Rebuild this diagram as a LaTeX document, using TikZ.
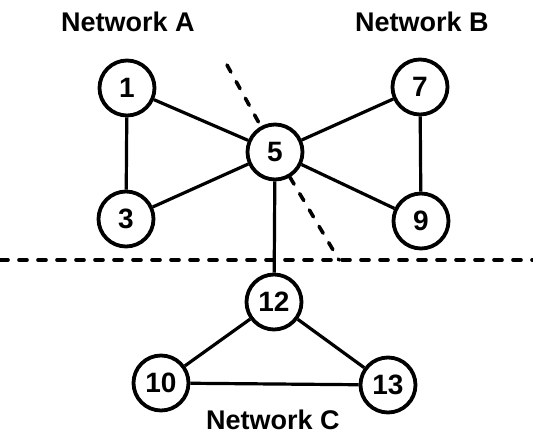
\documentclass[tikz,border=0pt]{standalone}
\usepackage{fontspec}
\setmainfont{Liberation Sans}
\begin{document}
\begin{tikzpicture}[x=1pt, y=-1pt,
    vertex/.style={draw, circle, line width=3.8pt, minimum size=55pt, inner sep=0pt,
        font=\fontsize{28}{30}\selectfont\bfseries},
    netlabel/.style={inner sep=1pt, font=\fontsize{27}{30}\selectfont\bfseries},
    edge/.style={line width=3.2pt},
    cut/.style={line width=3.6pt, dash pattern=on 8pt off 11pt, line cap=round}]
\useasboundingbox (0,0) rectangle (533,438);
% Define the vertices of the three networks
\foreach \n/\x/\y in {1/127/88, 3/126/219, 5/275/152, 7/420/87, 9/421/221,
                      12/274/302, 10/161/383, 13/388/385}
    \node[vertex] (\n) at (\x,\y) {\n};
% Network names
\node[netlabel] (netA) at (128,22) {Network A};
\node[netlabel] (netB) at (422,22) {Network B};
\node[netlabel] (netC) at (273,420) {Network C};
% Add edges between the vertices
\foreach \a/\b in {1/3, 1/5, 3/5, 5/7, 5/9, 7/9, 5/12, 12/10, 12/13, 10/13}
    \draw[edge] (\a) -- (\b);
% Cut lines
\coordinate (cutL) at (0,260);
\coordinate (cutR) at (533,260);
\coordinate (cutT) at (227,65);
\coordinate (cutB) at (339,260);
\draw[cut] (cutL) -- (cutR);
\draw[cut] (cutT) -- (5);
\draw[cut] (5) -- (cutB);
\end{tikzpicture}
\end{document}
